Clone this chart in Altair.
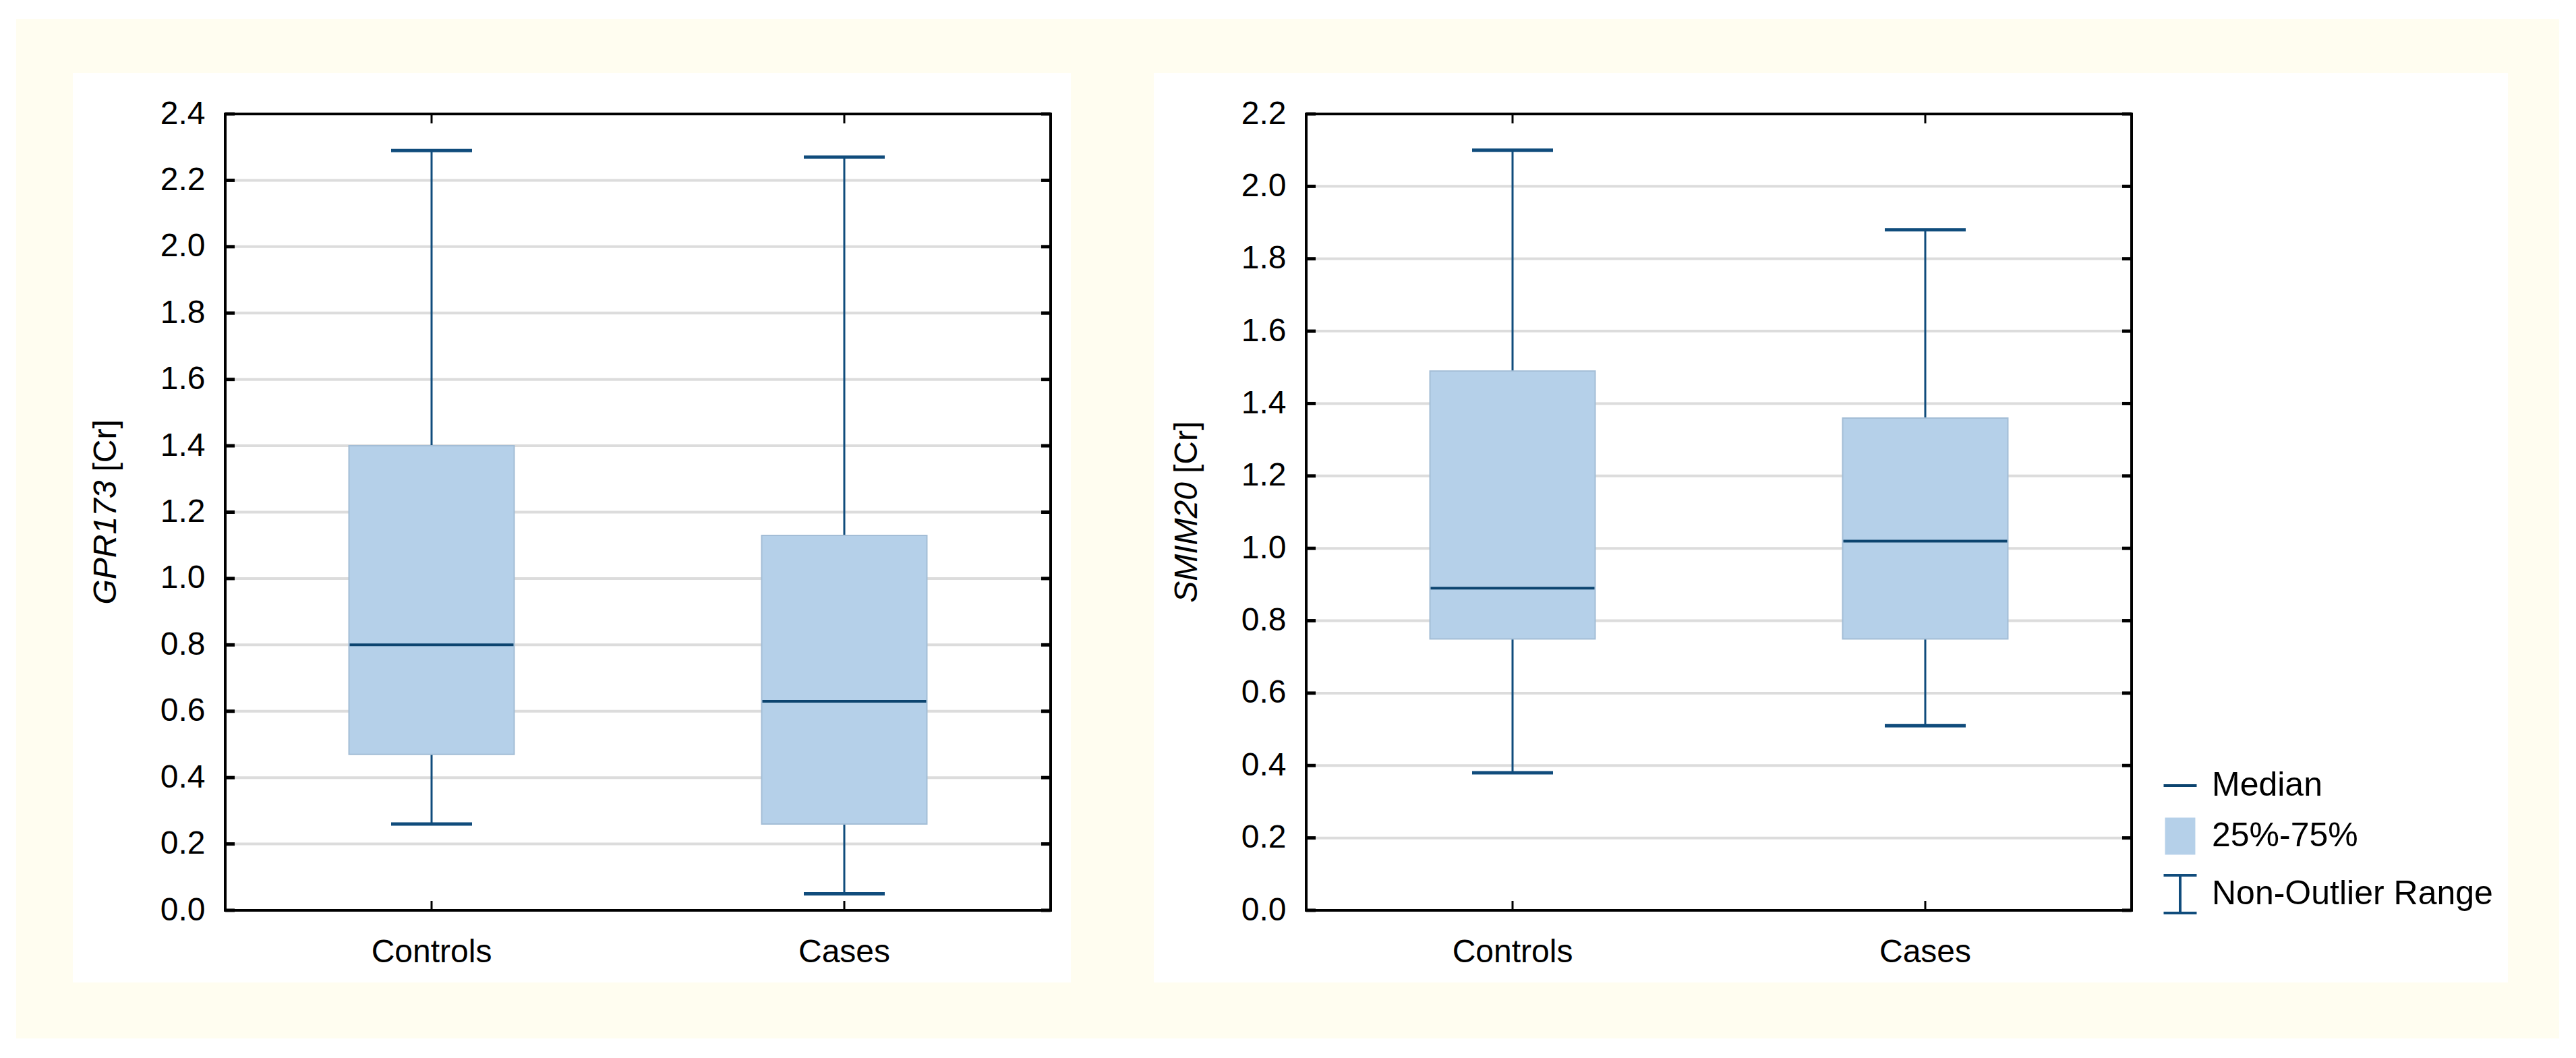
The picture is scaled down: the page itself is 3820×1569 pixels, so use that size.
import altair as alt
import pandas as pd

# ---------------- data ----------------
groups = ["Controls", "Cases"]

gpr_low = [0.26, 0.05]
gpr_q1 = [0.47, 0.26]
gpr_med = [0.80, 0.63]
gpr_q3 = [1.40, 1.13]
gpr_high = [2.29, 2.27]

smim_low = [0.38, 0.51]
smim_q1 = [0.75, 0.75]
smim_med = [0.89, 1.02]
smim_q3 = [1.49, 1.36]
smim_high = [2.10, 1.88]

gpr_ticks = [0.0, 0.2, 0.4, 0.6, 0.8, 1.0, 1.2, 1.4, 1.6, 1.8, 2.0, 2.2, 2.4]
smim_ticks = [0.0, 0.2, 0.4, 0.6, 0.8, 1.0, 1.2, 1.4, 1.6, 1.8, 2.0, 2.2]

legend_labels = ["Median", "25%-75%", "Non-Outlier Range"]

# ---------------- style ----------------
FONT = "Liberation Sans"
W, H = 1224, 1181
CREAM = "#fffdf0"
BOX_FILL = "#b5d0e9"
BOX_EDGE = "#a3bdd6"
WHISK = "#104c7c"
MED = "#0c446f"
GRID = "#dcdcdc"

dummy = pd.DataFrame({"k": [0]})


def panel(low, q1, med, q3, high, ticks, gene, first):
    df = pd.DataFrame({"group": groups, "low": low, "q1": q1, "med": med,
                       "q3": q3, "high": high})
    top = ticks[-1]
    yscale = alt.Scale(domain=[0, top], nice=False, zero=True)
    xscale = alt.Scale(domain=groups, paddingInner=0, paddingOuter=0)
    yaxis = alt.Axis(values=ticks, format=".1f", title=None, ticks=False,
                     domain=False, grid=False, labelPadding=30, zindex=1)
    xaxis = alt.Axis(title=None, ticks=False, domain=False, grid=False,
                     labelAngle=0, labelPadding=38, zindex=1)

    X = alt.X("group:N", scale=xscale, axis=xaxis, sort=groups)

    layers = []
    if first:
        layers.append(alt.Chart(dummy).mark_rect(fill=CREAM).encode(
            x=alt.value(-310), x2=alt.value(3461),
            y=alt.value(-141), y2=alt.value(1371)))
    layers.append(alt.Chart(dummy).mark_rect(fill="white").encode(
        x=alt.value(-226), x2=alt.value(1254 if first else 1782),
        y=alt.value(-61), y2=alt.value(1288)))

    grid_df = pd.DataFrame({"v": ticks[1:-1]})
    layers.append(alt.Chart(grid_df).mark_rule(color=GRID, strokeWidth=4).encode(
        y=alt.Y("v:Q", scale=yscale, axis=yaxis),
        x=alt.value(0), x2=alt.value(W)))

    base = alt.Chart(df)
    layers.append(base.mark_rule(color=WHISK, strokeWidth=3).encode(
        x=X, y=alt.Y("low:Q", scale=yscale, axis=yaxis), y2="high:Q"))
    layers.append(base.mark_bar(width=245, fill=BOX_FILL, stroke=BOX_EDGE,
                                strokeWidth=2).encode(
        x=X, y=alt.Y("q1:Q", scale=yscale, axis=yaxis), y2="q3:Q"))
    layers.append(base.mark_tick(size=120, thickness=5, color=WHISK, opacity=1).encode(
        x=X, y=alt.Y("low:Q", scale=yscale, axis=yaxis)))
    layers.append(base.mark_tick(size=120, thickness=5, color=WHISK, opacity=1).encode(
        x=X, y=alt.Y("high:Q", scale=yscale, axis=yaxis)))
    layers.append(base.mark_tick(size=243, thickness=4, color=MED, opacity=1).encode(
        x=X, y=alt.Y("med:Q", scale=yscale, axis=yaxis)))

    # inside tick marks
    tick_df = pd.DataFrame({"v": ticks})
    layers.append(alt.Chart(tick_df).mark_rule(color="black", strokeWidth=5).encode(
        y=alt.Y("v:Q", scale=yscale, axis=yaxis),
        x=alt.value(0), x2=alt.value(14)))
    layers.append(alt.Chart(tick_df).mark_rule(color="black", strokeWidth=5).encode(
        y=alt.Y("v:Q", scale=yscale, axis=yaxis),
        x=alt.value(W - 14), x2=alt.value(W)))
    gdf = pd.DataFrame({"group": groups})
    layers.append(alt.Chart(gdf).mark_rule(color="black", strokeWidth=3).encode(
        x=X, y=alt.value(H - 14), y2=alt.value(H)))
    layers.append(alt.Chart(gdf).mark_rule(color="black", strokeWidth=3).encode(
        x=X, y=alt.value(0), y2=alt.value(14)))

    # frame
    layers.append(alt.Chart(dummy).mark_rect(fill="transparent", stroke="black",
                                             strokeWidth=4).encode(
        x=alt.value(0), x2=alt.value(W), y=alt.value(0), y2=alt.value(H)))

    # y title: italic gene name + normal unit
    gw = 184 if first else 179
    total = gw + 13 + 77
    bottom = H / 2 + total / 2
    p = bottom - gw
    layers.append(alt.Chart(dummy).mark_text(
        text=gene, angle=270, align="right", baseline="middle",
        font=FONT, fontSize=48, fontStyle="italic", color="black").encode(
        x=alt.value(-176), y=alt.value(p)))
    layers.append(alt.Chart(dummy).mark_text(
        text="[Cr]", angle=270, align="left", baseline="middle",
        font=FONT, fontSize=48, color="black").encode(
        x=alt.value(-176), y=alt.value(p - 13)))

    if not first:
        leg_df = pd.DataFrame({"item": legend_labels})
        leg = alt.Legend(title=None, orient="none", legendX=2869, legendY=966,
                         labelFont=FONT, labelFontSize=50, labelColor="black",
                         labelOffset=17, labelLimit=800, rowPadding=16,
                         symbolSize=3136, symbolStrokeWidth=4, symbolOpacity=1,
                         padding=0)
        paths = ["M-0.875,0H0.875",
                 "M-0.73,-0.91H0.73V0.91H-0.73Z",
                 "M-0.875,-1H0.875M0,-1V1M-0.875,1H0.875"]
        layers.append(alt.Chart(leg_df).mark_point(strokeWidth=4, opacity=1).encode(
            shape=alt.Shape("item:N", scale=alt.Scale(domain=legend_labels, range=paths), legend=leg),
            fill=alt.Fill("item:N", scale=alt.Scale(domain=legend_labels,
                          range=["transparent", BOX_FILL, "transparent"]), legend=leg),
            stroke=alt.Stroke("item:N", scale=alt.Scale(domain=legend_labels,
                              range=[MED, BOX_FILL, WHISK]), legend=leg),
        ).transform_filter("false"))

    return alt.layer(*layers).properties(width=W, height=H)


left = panel(gpr_low, gpr_q1, gpr_med, gpr_q3, gpr_high, gpr_ticks, "GPR173", True)
right = panel(smim_low, smim_q1, smim_med, smim_q3, smim_high, smim_ticks, "SMIM20", False)

chart = alt.hconcat(left, right, spacing=379, bounds="flush").properties(
    background="white",
    padding={"left": 16, "top": 20, "right": 0, "bottom": 0},
).configure_view(strokeWidth=0).configure_axis(
    labelFont=FONT, labelFontSize=48, labelColor="black"
)

chart.save("out.html", embed_options={"renderer": "svg", "actions": False})
